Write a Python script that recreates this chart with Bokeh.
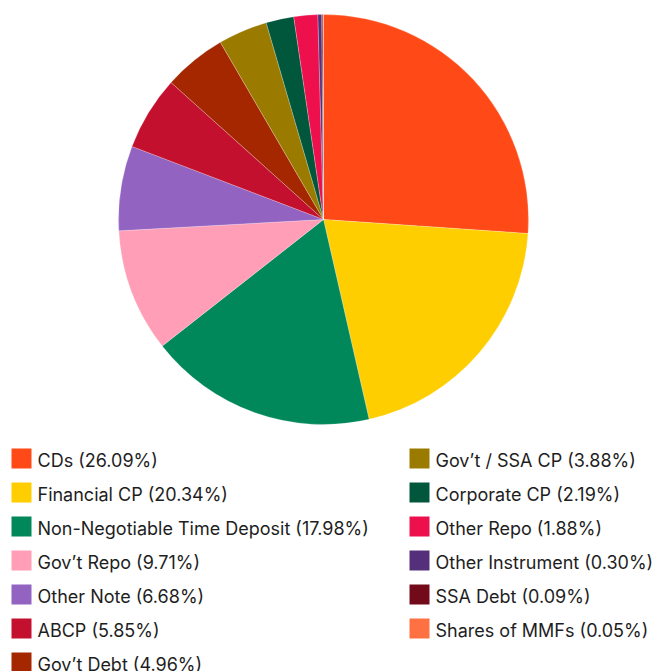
import math
from bokeh.plotting import figure
from bokeh.models import Range1d, ColumnDataSource
from bokeh.core.properties import value
from bokeh.embed import file_html
from bokeh.resources import INLINE

categories = ["CDs", "Financial CP", "Non-Negotiable Time Deposit", "Gov\u2019t Repo",
              "Other Note", "ABCP", "Gov\u2019t Debt", "Gov\u2019t / SSA CP", "Corporate CP",
              "Other Repo", "Other Instrument", "SSA Debt", "Shares of MMFs"]
shares = [26.09, 20.34, 17.98, 9.71, 6.68, 5.85, 4.96, 3.88, 2.19, 1.88, 0.30, 0.09, 0.05]
colors = ["#FF4A17", "#FFCE00", "#00875A", "#FF9EB6", "#9263C1", "#C4102F", "#A42700",
          "#9A7B00", "#00573B", "#EE0F4D", "#55307A", "#730A1A", "#FF7043"]

W, H = 670, 671
p = figure(width=W, height=H, output_backend="svg", toolbar_location=None,
           x_range=Range1d(0, W), y_range=Range1d(0, H), min_border=0)
p.axis.visible = False
p.grid.visible = False
p.outline_line_color = None
p.background_fill_color = "white"

# pie
total = sum(shares)
starts, ends = [], []
cum = 0.0
for v in shares:
    starts.append(math.pi / 2 - 2 * math.pi * cum / total)
    cum += v
    ends.append(math.pi / 2 - 2 * math.pi * cum / total)
pie = ColumnDataSource(dict(start=starts, end=ends, color=colors))
cx, cy, r = 323, 452, 205
p.wedge(x=cx, y=cy, radius=r, start_angle="start", end_angle="end", direction="clock",
        fill_color="color", line_color="white", line_width=0.4, line_alpha=0.6, source=pie)

# legend
labels = [f"{c} ({v:.2f}%)" for c, v in zip(categories, shares)]
nrows = 7
lx, ly, tx, ty = [], [], [], []
for i, lab in enumerate(labels):
    col, row = divmod(i, nrows)
    x0 = 11 if col == 0 else 409
    yc = 213 - 34 * row
    lx.append(x0 + 10)
    ly.append(yc)
    tx.append(x0 + 26)
    ty.append(yc - 1.5)
leg = ColumnDataSource(dict(x=lx, y=ly, tx=tx, ty=ty, color=colors, label=labels))
p.rect(x="x", y="y", width=20, height=20, fill_color="color", line_color=None, source=leg)
p.text(x="tx", y="ty", text="label", text_font=value("Inter"), text_font_size="18px",
       text_color="#1E1E1E", text_baseline="middle", text_align="left", source=leg)

open("out.html", "w").write(file_html(p, INLINE))
